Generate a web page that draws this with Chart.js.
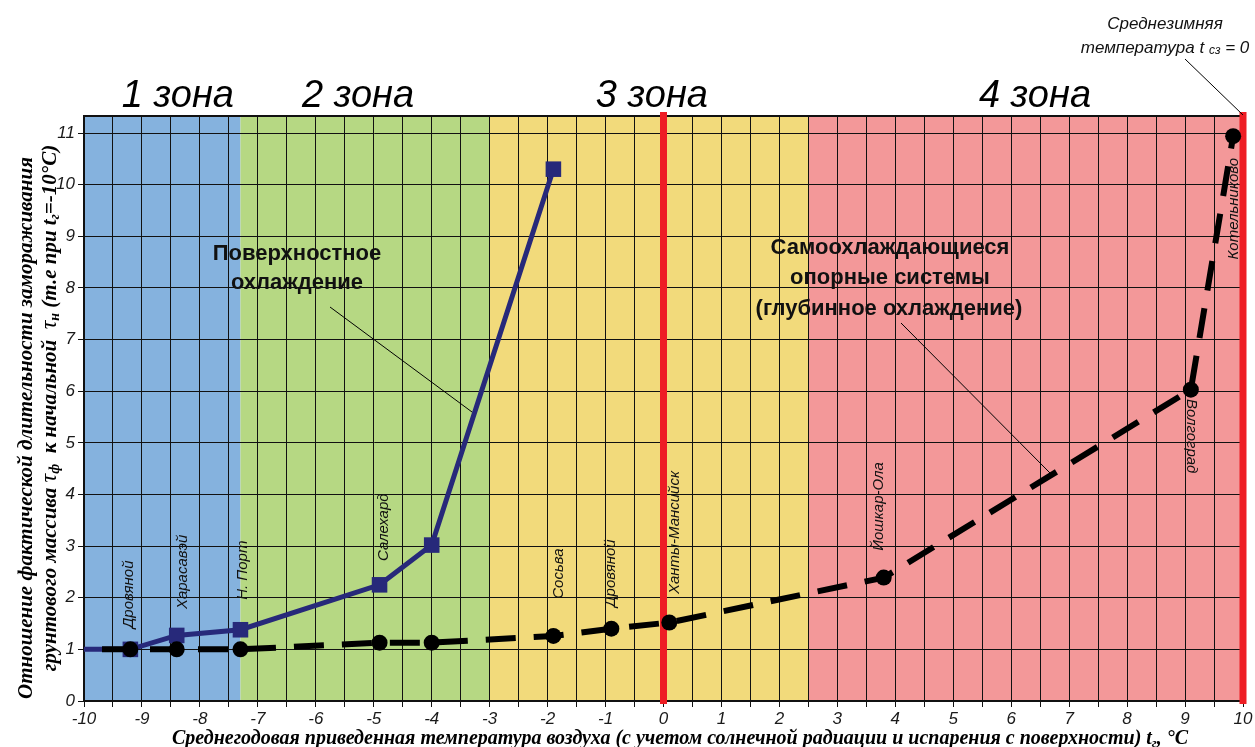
<!DOCTYPE html>
<html>
<head>
<meta charset="utf-8">
<script src="https://cdn.jsdelivr.net/npm/chart.js@4.4.1/dist/chart.umd.min.js"></script>
<style>
  html, body { margin: 0; padding: 0; background: #fff; }
  #wrap { width: 1255px; height: 747px; position: relative; }
</style>
</head>
<body>
<div id="wrap"><canvas id="chart" width="1255" height="747"></canvas></div>
<script>
// данные
const surfX = [-10, -9.2, -8.4, -7.3, -4.9, -4.0, -1.9];
const surfY = [1.0, 1.0, 1.27, 1.38, 2.25, 3.02, 10.3];

const deepX = [-10, -9.2, -8.4, -7.3, -4.9, -4.0, -1.9, -0.9, 0.1, 3.8, 9.1, 9.83];
const deepY = [1.0, 1.0, 1.0, 1.0, 1.13, 1.13, 1.26, 1.4, 1.52, 2.39, 6.03, 10.94];

const zoneEdges = [-10, -7.3, -3, 2.5, 10];
const zoneNames = ['1 зона', '2 зона', '3 зона', '4 зона'];
const redLinesX = [0, 10];

const cityNames = ['Дровяной', 'Харасавэй', 'Н. Порт', 'Салехард', 'Сосьва', 'Дровяной',
                   'Ханты-Мансийск', 'Йошкар-Ола', 'Волгоград', 'Котельниково'];

const xMin = -10, xMax = 10, yMin = 0, yMax = 11.33;

// стили
const zoneColors = ['#85b2de', '#b6d883', '#f2da7b', '#f39899'];
const navy = '#27297a';
const redLine = '#ee1d24';

// размещение подписей (значения осей)
const cityPlace = [
    { x: -9.22, y: 1.41, rot: -1 },
    { x: -8.29, y: 1.78, rot: -1 },
    { x: -7.26, y: 1.96, rot: -1 },
    { x: -4.82, y: 2.71, rot: -1 },
    { x: -1.80, y: 1.98, rot: -1 },
    { x: -0.91, y: 1.82, rot: -1 },
    { x: 0.20, y: 2.07, rot: -1 },
    { x: 3.72, y: 2.91, rot: -1 },
    { x: 9.10, y: 5.85, rot: 1 },
    { x: 9.84, y: 8.55, rot: -1 }
];
const zoneLabelX = [-8.38, -5.27, -0.2, 6.41];

function drawRuns(ctx, runs, x, y) {
    // текст из кусочков с подстрочными индексами, по центру (x, y)
    let total = 0;
    runs.forEach(r => { ctx.font = r.font; total += ctx.measureText(r.t).width; });
    let cx = x - total / 2;
    ctx.textAlign = 'left';
    ctx.textBaseline = 'alphabetic';
    runs.forEach(r => {
        ctx.font = r.font;
        ctx.fillText(r.t, cx, y + (r.dy || 0));
        cx += ctx.measureText(r.t).width;
    });
}

const backgroundPlugin = {
    id: 'zones',
    beforeDraw(chart) {
        const ctx = chart.ctx;
        const xs = chart.scales.x;
        const area = chart.chartArea;
        ctx.save();
        ctx.fillStyle = '#fff';
        ctx.fillRect(0, 0, chart.width, chart.height);
        for (let i = 0; i < zoneNames.length; i++) {
            const x0 = xs.getPixelForValue(zoneEdges[i]);
            const x1 = xs.getPixelForValue(zoneEdges[i + 1]);
            ctx.fillStyle = zoneColors[i];
            ctx.fillRect(x0, area.top, x1 - x0, area.bottom - area.top);
        }
        ctx.restore();
    },
    beforeDatasetsDraw(chart) {
        const ctx = chart.ctx;
        const xs = chart.scales.x;
        const area = chart.chartArea;
        ctx.save();
        // рамка
        ctx.strokeStyle = '#111';
        ctx.lineWidth = 2;
        ctx.beginPath();
        ctx.moveTo(area.left, area.top);
        ctx.lineTo(area.right, area.top);
        ctx.stroke();
        // красные линии
        ctx.strokeStyle = redLine;
        ctx.lineWidth = 7;
        redLinesX.forEach(v => {
            const px = xs.getPixelForValue(v);
            ctx.beginPath();
            ctx.moveTo(px, area.top - 4);
            ctx.lineTo(px, area.bottom + 3);
            ctx.stroke();
        });

        // выноски
        ctx.strokeStyle = '#000';
        ctx.lineWidth = 1;
        ctx.beginPath();
        ctx.moveTo(330, 307); ctx.lineTo(472, 412);
        ctx.moveTo(901, 323); ctx.lineTo(1050, 473);
        ctx.moveTo(1185, 59); ctx.lineTo(1243, 115);
        ctx.stroke();
        ctx.restore();
    },
    afterDraw(chart) {
        const ctx = chart.ctx;
        const xs = chart.scales.x, ys = chart.scales.y;
        ctx.save();
        ctx.fillStyle = '#000';

        // зоны
        ctx.font = 'italic 38px "Liberation Sans", Arial, sans-serif';
        ctx.textAlign = 'center';
        ctx.textBaseline = 'alphabetic';
        zoneNames.forEach((n, i) => {
            ctx.fillText(n, xs.getPixelForValue(zoneLabelX[i]), 107);
        });

        // подписи пунктов
        ctx.font = 'italic 15px "Liberation Sans", Arial, sans-serif';
        ctx.fillStyle = '#111';
        cityNames.forEach((n, i) => {
            const p = cityPlace[i];
            ctx.save();
            ctx.translate(xs.getPixelForValue(p.x), ys.getPixelForValue(p.y));
            ctx.rotate(p.rot * Math.PI / 2);
            ctx.textAlign = 'left';
            ctx.textBaseline = 'middle';
            ctx.fillText(n, 0, 0);
            ctx.restore();
        });

        // пояснения
        ctx.fillStyle = '#111';
        ctx.font = 'bold 22px "Liberation Sans", Arial, sans-serif';
        ctx.textAlign = 'center';
        ctx.textBaseline = 'middle';
        ctx.fillText('Поверхностное', 297, 254);
        ctx.fillText('охлаждение', 297, 283);
        ctx.fillText('Самоохлаждающиеся', 890, 248);
        ctx.fillText('опорные системы', 890, 278);
        ctx.fillText('(глубинное охлаждение)', 889, 309);

        ctx.font = 'italic 17px "Liberation Sans", Arial, sans-serif';
        ctx.fillText('Среднезимняя', 1165, 24);
        const sans = '"Liberation Sans", Arial, sans-serif';
        drawRuns(ctx, [
            { t: 'температура t ', font: 'italic 17px ' + sans },
            { t: 'сз', font: 'italic 12px ' + sans, dy: 1 },
            { t: ' = 0', font: 'italic 17px ' + sans }
        ], 1165, 53);

        // подписи осей
        const serif = '"Liberation Serif", "Times New Roman", serif';
        const big = 'italic bold 20px ' + serif;
        const sub = 'italic bold 13px ' + serif;
        ctx.fillStyle = '#000';
        drawRuns(ctx, [
            { t: 'Среднегодовая приведенная температура воздуха (с учетом солнечной радиации и испарения с поверхности) t', font: big },
            { t: 'г', font: sub, dy: 3 },
            { t: ', °C', font: big }
        ], 680, 744);

        const bigY = 'italic bold 21px ' + serif;
        const subY = 'italic bold 14px ' + serif;
        ctx.save();
        ctx.translate(32, 428);
        ctx.rotate(-Math.PI / 2);
        drawRuns(ctx, [{ t: 'Отношение фактической длительности замораживания', font: bigY }], 0, 0);
        ctx.restore();

        ctx.save();
        ctx.translate(56, 408);
        ctx.rotate(-Math.PI / 2);
        drawRuns(ctx, [
            { t: 'грунтового массива ', font: bigY },
            { t: 'τ', font: 'italic 24px ' + serif },
            { t: 'ф', font: subY, dy: 3 },
            { t: '  к начальной  ', font: bigY },
            { t: 'τ', font: 'italic 24px ' + serif },
            { t: 'н', font: subY, dy: 3 },
            { t: ' (т.е при t', font: bigY },
            { t: 'г', font: subY, dy: 3 },
            { t: '=-10°C)', font: bigY }
        ], 0, 0);
        ctx.restore();

        ctx.restore();
    }
};

const surfData = surfX.map((x, i) => ({ x: x, y: surfY[i] }));
const deepData = deepX.map((x, i) => ({ x: x, y: deepY[i] }));

new Chart(document.getElementById('chart'), {
    type: 'line',
    data: {
        datasets: [
            {
                label: 'Самоохлаждающиеся опорные системы',
                data: deepData,
                borderColor: '#000',
                backgroundColor: '#000',
                borderWidth: 6,
                borderDash: [30, 18],
                borderDashOffset: 30,
                borderCapStyle: 'butt',
                pointStyle: 'circle',
                pointRadius: deepX.map((x, i) => i === 0 ? 0 : 8),
                pointBorderWidth: 0,
                tension: 0,
                order: 0
            },
            {
                label: 'Поверхностное охлаждение',
                data: surfData,
                borderColor: navy,
                backgroundColor: navy,
                borderWidth: 5,
                pointStyle: 'rect',
                pointRadius: surfX.map((x, i) => i === 0 ? 0 : 11),
                pointBorderWidth: 0,
                tension: 0,
                order: 1
            }
        ]
    },
    options: {
        responsive: false,
        animation: false,
        layout: { padding: { top: 116, right: 12, left: 0, bottom: 0 } },
        plugins: {
            legend: { display: false },
            tooltip: { enabled: false }
        },
        scales: {
            x: {
                type: 'linear',
                min: xMin,
                max: xMax,
                afterFit: function(scale) { scale.height = 46; },
                grid: { color: '#111', lineWidth: 1, tickLength: 6, drawTicks: true },
                border: { color: '#111', width: 2 },
                ticks: {
                    stepSize: 0.5,
                    autoSkip: false,
                    maxRotation: 0,
                    padding: 2,
                    color: '#1a1a1a',
                    font: { family: '"Liberation Sans", Arial, sans-serif', size: 17, style: 'italic' },
                    callback: function(value) {
                        return Number.isInteger(value) ? String(value) : '';
                    }
                }
            },
            y: {
                type: 'linear',
                min: yMin,
                max: yMax,
                afterFit: function(scale) { scale.width = 84; },
                grid: { color: '#111', lineWidth: 1, tickLength: 6, drawTicks: true },
                border: { color: '#111', width: 2 },
                ticks: {
                    stepSize: 1,
                    includeBounds: false,
                    padding: 3,
                    color: '#1a1a1a',
                    font: { family: '"Liberation Sans", Arial, sans-serif', size: 17, style: 'italic' }
                }
            }
        }
    },
    plugins: [backgroundPlugin]
});
</script>
</body>
</html>
